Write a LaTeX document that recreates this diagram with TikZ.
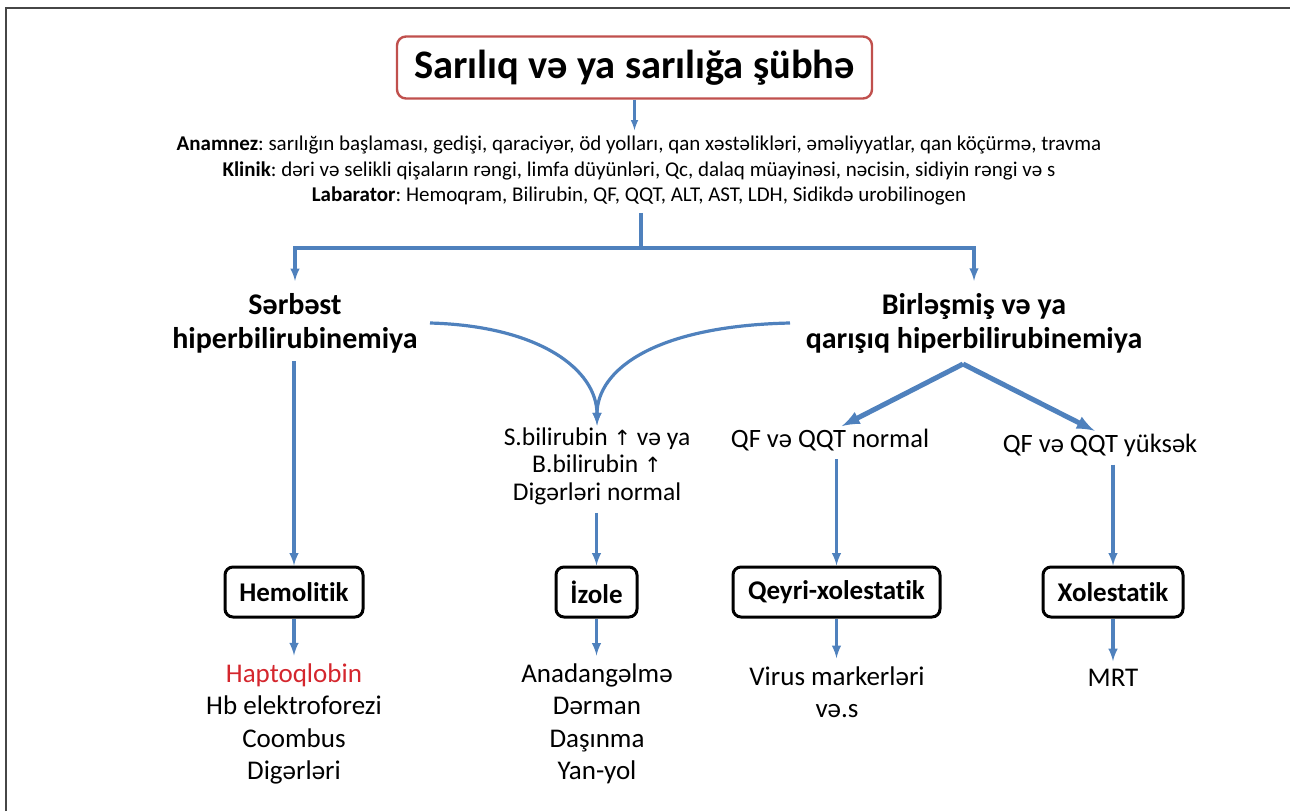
\documentclass[tikz,border=0pt]{standalone}
\usepackage{fontspec}
\setmainfont[Ligatures=NoCommon]{Carlito}
\newfontfamily\arrowfont{DejaVu Sans}
\usepackage{xcolor}
\usepackage{tikz}
\usetikzlibrary{calc}

\definecolor{arrowblue}{RGB}{79,129,189}
\definecolor{titlered}{RGB}{192,80,77}
\definecolor{haptored}{RGB}{212,38,45}
\definecolor{framegray}{RGB}{70,70,70}
\newcommand{\fsz}[2]{\fontsize{#1}{#2}\selectfont}
\newcommand{\up}{{\arrowfont\fontsize{21}{21}\selectfont ↑}}
\frenchspacing

\begin{document}
\begin{tikzpicture}[>=latex, x=1pt, y=-1pt,
    flow/.style={->, draw=arrowblue, line width=3.2pt},
    wide/.style={->, draw=arrowblue, line width=5pt},
    box/.style={draw, line width=3pt, rounded corners=8pt, minimum height=50pt,
        inner sep=0pt, font=\fsz{27}{30}\bfseries},
    txt/.style={align=center, inner sep=0pt}]
    \useasboundingbox (0,0) rectangle (1290,811);

    % 1. Khung
    \draw[framegray, line width=2pt] (6,811) -- (6,7.5) -- (1290,7.5);

    % 2. Tiêu đề và dữ liệu ban đầu
    \node[draw=titlered, line width=2.4pt, rounded corners=9pt, minimum width=475pt,
        minimum height=62pt, inner sep=0pt, font=\fsz{40.5}{48}\bfseries]
        (title) at (634.5,67.5) {Sarılıq və ya sarılığa şübhə};
    \node[txt, font=\fsz{21}{25.5}] (info) at (639,171)
        {\textbf{Anamnez}: sarılığın başlaması, gedişi, qaraciyər, öd yolları, qan xəstəlikləri, əməliyyatlar, qan köçürmə, travma\\
         \textbf{Klinik}: dəri və selikli qişaların rəngi, limfa düyünləri, Qc, dalaq müayinəsi, nəcisin, sidiyin rəngi və s\\
         \textbf{Labarator}: Hemoqram, Bilirubin, QF, QQT, ALT, AST, LDH, Sidikdə urobilinogen};

    % 3. Hai nhánh
    \node[txt, font=\fsz{30}{34}\bfseries] (serbest) at (295,323) {Sərbəst\\hiperbilirubinemiya};
    \node[txt, font=\fsz{30}{34}\bfseries] (birlesmis) at (974,323) {Birləşmiş və ya\\qarışıq hiperbilirubinemiya};
    \node[txt, font=\fsz{25.5}{27.5}] (sbil) at (597,466) {S.bilirubin \up\ və ya\\B.bilirubin \up\\Digərləri normal};
    \node[txt, font=\fsz{26.5}{26}] (qfn) at (830,440) {QF və QQT normal};
    \node[txt, font=\fsz{26.5}{26}] (qfy) at (1100,445) {QF və QQT yüksək};

    % 4. Các hộp
    \node[box, minimum width=138pt] (hemo) at (294,592) {Hemolitik};
    \node[box, minimum width=81pt] (izole) at (596.5,592) {İzole};
    \node[box, minimum width=207pt] (qeyri) at (836.5,592) {Qeyri-xolestatik};
    \node[box, minimum width=140pt] (xol) at (1113,592) {Xolestatik};

    % 5. Danh sách cuối
    \node[txt, font=\fsz{27}{32.5}] (hemoList) at (294,724)
        {\textcolor{haptored}{Haptoqlobin}\\Hb elektroforezi\\Coombus\\Digərləri};
    \node[txt, font=\fsz{27}{32.5}] (izoleList) at (597,724) {Anadangəlmə\\Dərman\\Daşınma\\Yan-yol};
    \node[txt, font=\fsz{27}{32.5}] (qeyriList) at (837,692) {Virus markerləri\\və.s};
    \node[txt, font=\fsz{27}{32.5}] (mrt) at (1113,678) {MRT};

    % 6. Mũi tên
    \coordinate (fork) at (641,248);
    \coordinate (curveL) at (430,323);
    \coordinate (curveR) at (790,323);
    \coordinate (apex) at (963,364);
    \draw[flow, line width=2.4pt, shorten >=6pt] (title.south) -- (title.south |- info.north);
    \draw[flow, -, shorten <=7pt] (fork |- info.south) -- (fork);
    \draw[flow, shorten >=12pt] (fork) -| (serbest.north);
    \draw[flow, shorten >=12pt] (fork) -| (birlesmis.north);
    \draw[flow, shorten >=2pt] (curveL) .. controls (540,326) and (597,370) .. (sbil.north);
    \draw[flow, shorten >=2pt] (curveR) .. controls (654,326) and (597,370) .. (sbil.north);
    \draw[wide, shorten >=6pt] (apex) -- (qfn.north -| qeyri.north);
    \draw[wide, shorten >=6pt] (apex) -- (qfy.north);
    \foreach \a/\b in {serbest/hemo, sbil/izole, qfn/qeyri, qfy/xol}
        \draw[flow, shorten <=8pt] (\b.north |- \a.south) -- (\b.north);
    \foreach \b/\l in {hemo/hemoList, izole/izoleList, qeyri/qeyriList, xol/mrt}
        \draw[flow, shorten >=8pt] (\b.south) -- (\b.south |- \l.north);
\end{tikzpicture}
\end{document}
